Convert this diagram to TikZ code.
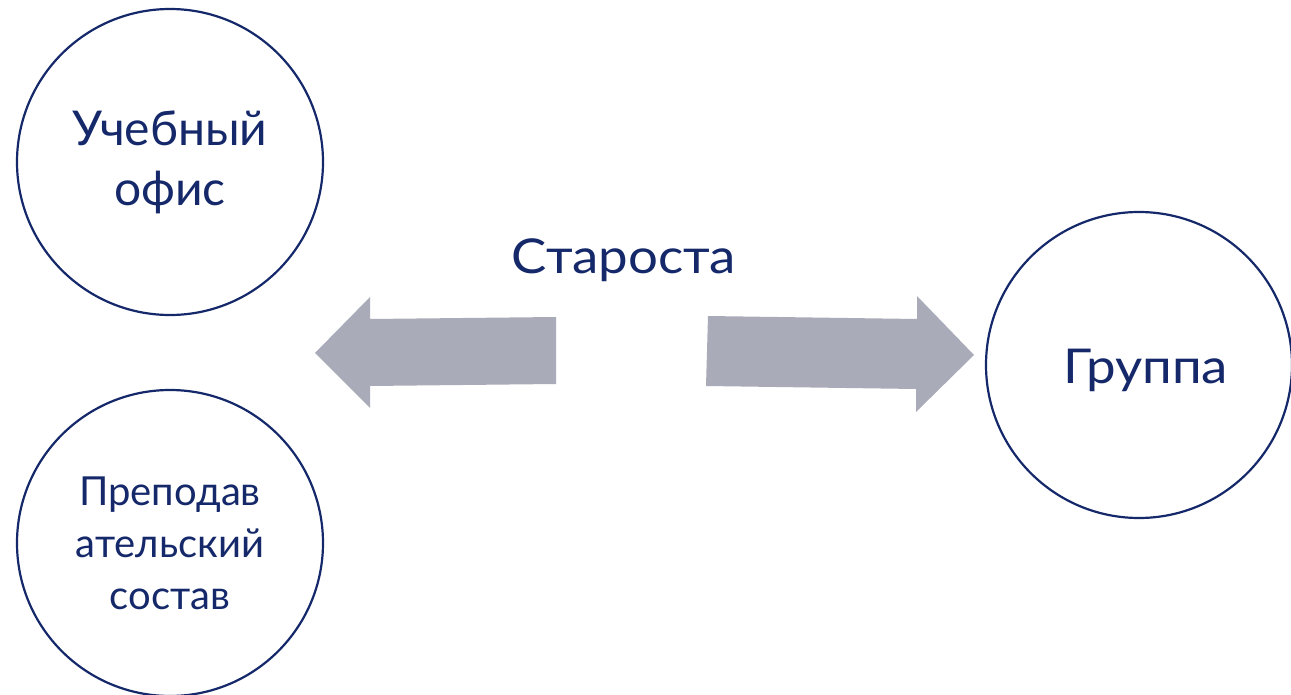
\documentclass[tikz,border=0pt]{standalone}
\usepackage{fontspec}
\setmainfont{Lato}
\newfontfamily\widefont[FakeStretch=1.1]{Lato}
\definecolor{navy}{HTML}{14286A}
\definecolor{arrowgrey}{HTML}{A9ABB8}
\begin{document}
\begin{tikzpicture}[x=1pt,y=-1pt,
  circ/.style={circle,draw=navy,line width=2.2pt,minimum size=306pt,inner sep=0pt,text=navy,align=center},
  bigtext/.style={font=\fontsize{48}{60}\selectfont},
  widetext/.style={font=\widefont\fontsize{48}{60}\selectfont},
  smalltext/.style={font=\fontsize{40}{52}\selectfont},
  fatarrow/.style={fill=arrowgrey}]
\useasboundingbox (0,0) rectangle (1291,695);
\node[circ,bigtext] (office) at (170,162) {Учебный\\офис};
\node[circ,smalltext] (staff) at (170,543) {Преподав\\ательский\\состав};
\node[circ,widetext] (group) at (1139,365) {};
\node[text=navy,widetext,anchor=base] (grouplabel) at (1146,383) {Группа};
\node[text=navy,widetext,anchor=base] (starosta) at (624,274) {Староста};
\fill[fatarrow] (315,353) -- (370,297) -- (370,319) -- (556,317) -- (556,384) -- (370,386) -- (370,408) -- cycle;
\fill[fatarrow] (708,316) -- (917,319) -- (917,296) -- (974,355) -- (916,412) -- (916,389) -- (706,386) -- cycle;
\end{tikzpicture}
\end{document}
